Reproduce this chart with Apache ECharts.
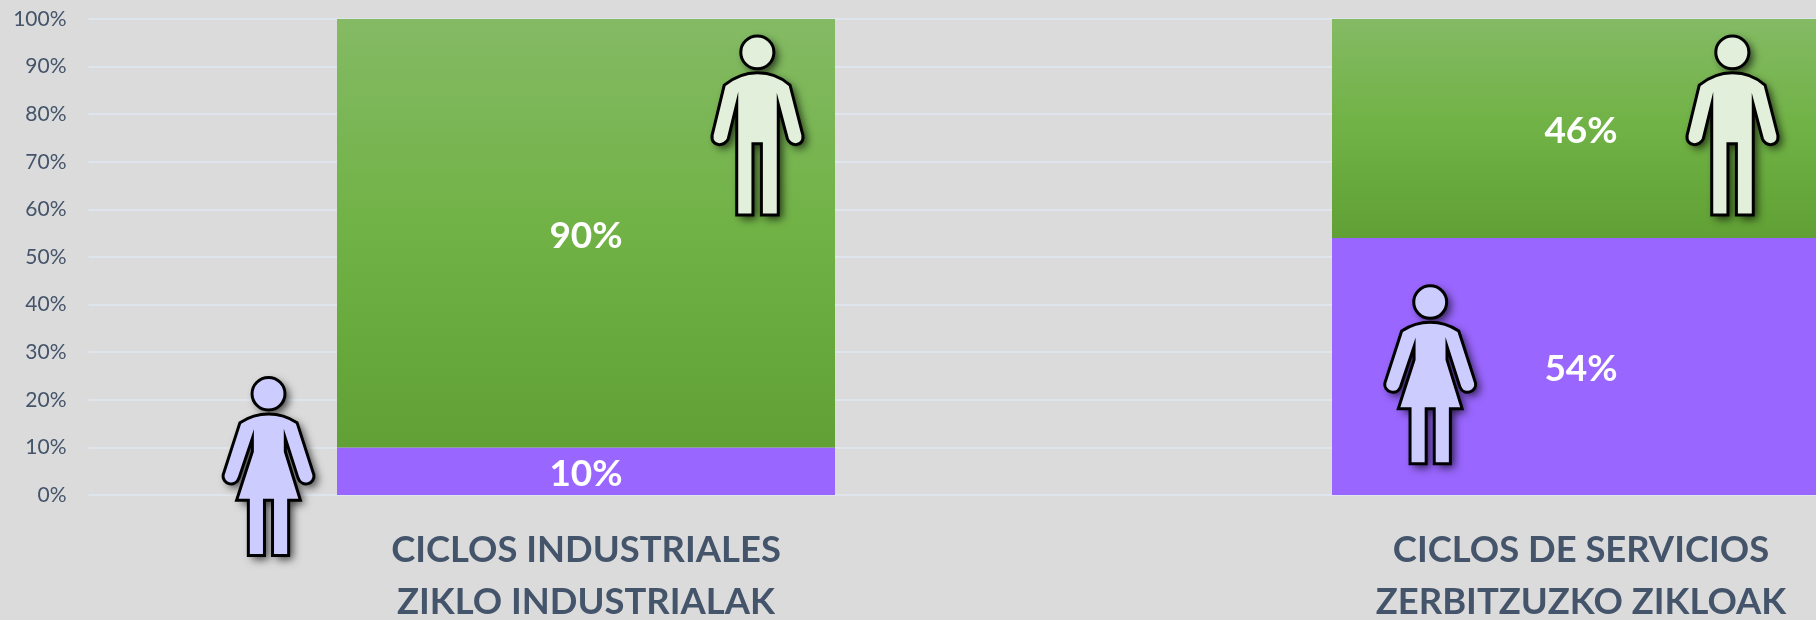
<!DOCTYPE html>
<html>
<head>
<meta charset="utf-8">
<style>
  html, body { margin: 0; padding: 0; background: #dbdbdb; }
  #chart { width: 1816px; height: 620px; overflow: hidden; }
</style>
<script src="https://cdn.jsdelivr.net/npm/echarts@6/dist/echarts.min.js"></script>
</head>
<body>
<div id="chart"></div>
<script>
const categories = ["CICLOS INDUSTRIALES\nZIKLO INDUSTRIALAK", "CICLOS DE SERVICIOS\nZERBITZUZKO ZIKLOAK"];
const women = [10, 54];
const men = [90, 46];

// siluetas, dibujadas a escala 3x
const womanPath = "M854 161A49 49 0 1 1 756 161A49 49 0 1 1 854 161Z" +
  "M720 248Q760 222 805 222Q850 222 890 248L940 405C945 430 905 447 893 415L855 295L855 335L900 482L865 482L865 648L817 648L817 482L793 482L793 648L745 648L745 482L710 482L757 335L757 295L717 415C705 447 665 430 670 405Z";
const manPath = "M282 157A49 49 0 1 1 184 157A49 49 0 1 1 282 157Z" +
  "M135 255Q180 218 233 218Q290 218 330 255L368 405C372 440 330 440 322 415L295 312L295 643L245 643L245 430L220 430L220 643L172 643L172 312L147 415C137 440 95 440 99 405Z";

const figures = [
  { path: womanPath, fill: "#ccccff", box: [223, 377.5, 91, 178] },
  { path: womanPath, fill: "#ccccff", box: [1384.7, 285.8, 91, 178] },
  { path: manPath, fill: "#e2efda", box: [712, 36, 91, 179] },
  { path: manPath, fill: "#e2efda", box: [1687, 36, 91, 179] }
];

function renderFigure(params) {
  let f = figures[params.dataIndex];
  let shape = { pathData: f.path, layout: "cover", x: f.box[0], y: f.box[1], width: f.box[2], height: f.box[3] };
  // la sombra va en una capa aparte, si no cae sobre el relleno
  return {
    type: "group",
    children: [
      {
        type: "path",
        shape: shape,
        style: {
          fill: "#000",
          shadowColor: "rgba(0,0,0,0.7)",
          shadowBlur: 9,
          shadowOffsetX: 4,
          shadowOffsetY: 4
        }
      },
      {
        type: "path",
        shape: shape,
        style: { fill: f.fill, stroke: "#000", lineWidth: 3 }
      }
    ]
  };
}

let chart = echarts.init(document.getElementById("chart"));

let option = {
  backgroundColor: "#dbdbdb",
  animation: false,
  grid: { left: 88.5, right: -262.5, top: 19, bottom: 125, outerBoundsMode: "none" },
  xAxis: {
    type: "category",
    data: categories,
    axisLine: { show: false },
    axisTick: { show: false },
    axisLabel: {
      fontFamily: "Lato",
      fontWeight: "bold",
      fontSize: 36.4,
      color: "#44546a",
      lineHeight: 52,
      margin: 29,
      interval: 0
    }
  },
  yAxis: {
    type: "value",
    min: 0,
    max: 100,
    interval: 10,
    axisLine: { show: false },
    axisTick: { show: false },
    axisLabel: {
      formatter: "{value}%",
      fontFamily: "Lato",
      fontSize: 21,
      color: "#44546a",
      margin: 22
    },
    splitLine: { lineStyle: { color: "#dfe5ec", width: 2 } }
  },
  series: [
    {
      name: "Emakumeak",
      type: "bar",
      stack: "total",
      barWidth: 498,
      data: women,
      itemStyle: { color: "#9966ff" },
      label: {
        show: true,
        position: "inside",
        offset: [0, 3],
        formatter: "{c}%",
        color: "#fff",
        fontFamily: "Lato",
        fontWeight: "bold",
        fontSize: 37
      }
    },
    {
      name: "Gizonak",
      type: "bar",
      stack: "total",
      barWidth: 498,
      data: men,
      itemStyle: {
        color: {
          type: "linear", x: 0, y: 0, x2: 0, y2: 1,
          colorStops: [
            { offset: 0, color: "#84ba64" },
            { offset: 0.5, color: "#70b245" },
            { offset: 1, color: "#60a034" }
          ]
        }
      },
      label: {
        show: true,
        position: "inside",
        offset: [0, 3],
        formatter: "{c}%",
        color: "#fff",
        fontFamily: "Lato",
        fontWeight: "bold",
        fontSize: 37
      }
    },
    {
      type: "custom",
      coordinateSystem: "none",
      silent: true,
      z: 10,
      data: figures.map(function (f, i) { return [i]; }),
      renderItem: renderFigure
    }
  ]
};

chart.setOption(option);
window.addEventListener("resize", function () {
  chart.resize();
});
</script>
</body>
</html>
